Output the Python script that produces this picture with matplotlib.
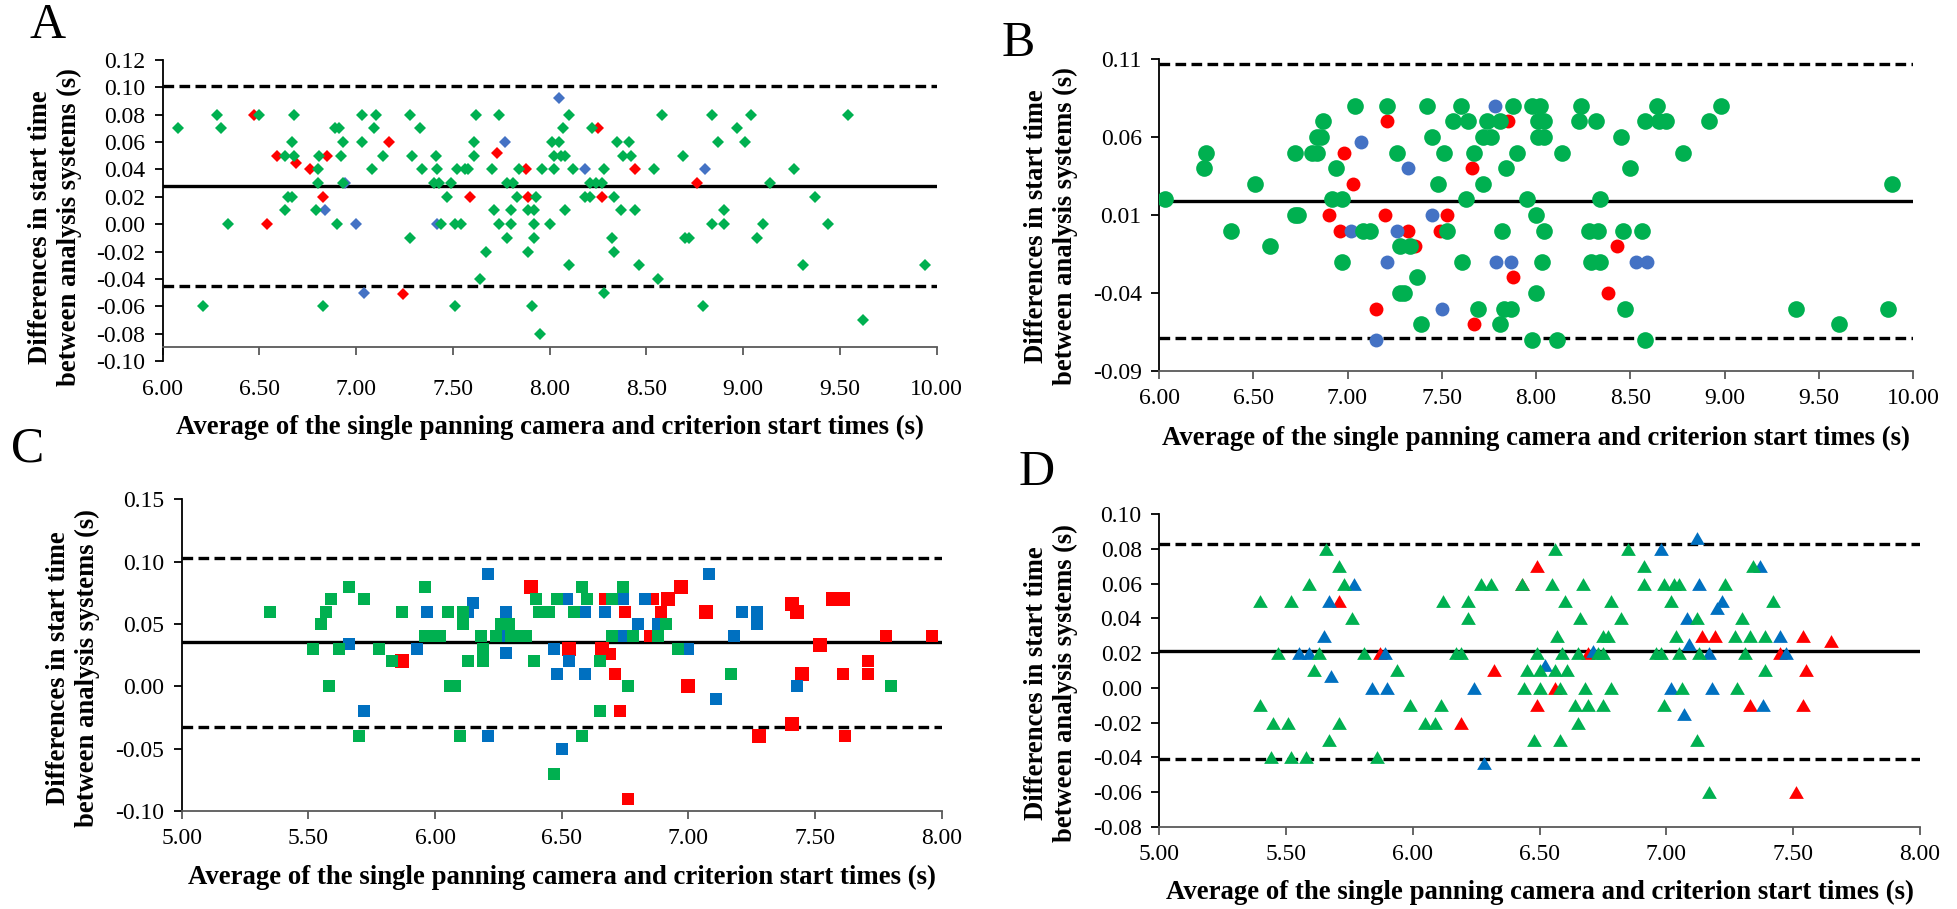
import numpy as np
import matplotlib.pyplot as plt
from matplotlib.ticker import FormatStrFormatter

plt.rcParams['font.family'] = ['Liberation Serif', 'DejaVu Serif']
plt.rcParams['axes.unicode_minus'] = False

W, H = 1957, 909
GREEN = '#00B050'
RED = '#FF0000'
BLUE_AB = '#4472C4'
BLUE_CD = '#0070C0'

# ---- A: diamonds (mean, difference) ----
a_green = [
    (6.08, 0.07), (6.28, 0.08), (6.30, 0.07), (6.21, -0.06), (6.34, 0.00), (6.50, 0.08),
    (6.68, 0.08), (6.67, 0.06), (6.63, 0.05), (6.68, 0.05), (6.65, 0.02), (6.67, 0.02),
    (6.63, 0.01), (6.80, 0.04), (6.81, 0.05), (6.80, 0.03), (6.79, 0.01), (6.83, -0.06),
    (6.89, 0.07), (6.91, 0.07), (6.93, 0.06), (6.92, 0.05), (6.93, 0.03), (6.90, 0.00),
    (7.03, 0.08), (7.10, 0.08), (7.09, 0.07), (7.03, 0.06), (7.14, 0.05), (7.08, 0.04),
    (7.28, 0.08), (7.33, 0.07), (7.29, 0.05), (7.34, 0.04), (7.28, -0.01), (7.41, 0.05),
    (7.42, 0.04), (7.40, 0.03), (7.43, 0.03), (7.49, 0.03), (7.47, 0.02), (7.44, 0.00),
    (7.52, 0.04), (7.56, 0.04), (7.58, 0.04), (7.51, 0.00), (7.54, 0.00), (7.51, -0.06),
    (7.62, 0.08), (7.61, 0.06), (7.61, 0.05), (7.74, 0.08), (7.70, 0.04), (7.71, 0.01),
    (7.74, 0.00), (7.67, -0.02), (7.64, -0.04), (7.78, 0.03), (7.81, 0.03), (7.83, 0.02),
    (7.80, 0.01), (7.80, 0.00), (7.78, -0.01), (7.84, 0.04), (7.89, -0.02), (7.89, 0.01),
    (7.92, 0.01), (7.93, 0.02), (7.92, 0.00), (7.92, -0.01), (7.91, -0.06), (7.95, -0.08),
    (7.96, 0.04), (8.02, 0.04), (8.00, 0.00), (8.01, 0.06), (8.05, 0.06), (8.02, 0.05),
    (8.06, 0.05), (8.08, 0.05), (8.07, 0.07), (8.10, 0.08), (8.08, 0.01), (8.12, 0.04),
    (8.10, -0.03), (8.21, 0.03), (8.24, 0.03), (8.27, 0.03), (8.18, 0.02), (8.21, 0.02),
    (8.22, 0.07), (8.28, 0.04), (8.33, 0.02), (8.35, 0.06), (8.41, 0.06), (8.38, 0.05),
    (8.42, 0.05), (8.37, 0.01), (8.44, 0.01), (8.32, -0.01), (8.33, -0.02), (8.28, -0.05),
    (8.46, -0.03), (8.54, 0.04), (8.58, 0.08), (8.56, -0.04), (8.69, 0.05), (8.70, -0.01),
    (8.72, -0.01), (8.79, -0.06), (8.84, 0.08), (8.87, 0.06), (8.84, 0.00), (8.90, 0.00),
    (8.90, 0.01), (8.97, 0.07), (9.01, 0.06), (9.04, 0.08), (9.07, -0.01), (9.10, 0.00),
    (9.14, 0.03), (9.26, 0.04), (9.31, -0.03), (9.37, 0.02), (9.44, 0.00), (9.54, 0.08),
    (9.62, -0.07), (9.94, -0.03),
]
a_red = [
    (6.47, 0.08), (6.59, 0.05), (6.69, 0.045), (6.76, 0.04), (6.83, 0.02), (6.85, 0.05),
    (6.54, 0.00), (7.17, 0.06), (7.24, -0.051), (7.73, 0.052), (7.59, 0.02), (7.88, 0.04),
    (7.89, 0.02), (8.25, 0.07), (8.27, 0.02), (8.44, 0.04), (8.76, 0.03),
]
a_blue = [
    (6.84, 0.01), (6.94, 0.03), (7.00, 0.00), (7.04, -0.05), (7.77, 0.06), (7.42, 0.00),
    (8.05, 0.092), (8.18, 0.04), (8.80, 0.04),
]
a_mean, a_loa = 0.028, (0.101, -0.045)

# ---- B: circles ----
b_green = [
    (6.03, 0.02), (6.25, 0.05), (6.24, 0.04), (6.51, 0.03), (6.38, 0.00), (6.59, -0.01),
    (6.72, 0.05), (6.72, 0.01), (6.74, 0.01), (6.87, 0.07), (6.84, 0.06), (6.86, 0.06),
    (6.81, 0.05), (6.84, 0.05), (6.94, 0.04), (6.92, 0.02), (6.97, 0.02), (6.97, -0.02),
    (7.04, 0.08), (7.08, 0.00), (7.12, 0.00), (7.21, 0.08), (7.26, 0.05), (7.28, -0.01),
    (7.33, -0.01), (7.28, -0.04), (7.30, -0.04), (7.37, -0.03), (7.39, -0.06), (7.42, 0.08),
    (7.45, 0.06), (7.48, 0.03), (7.51, 0.05), (7.53, 0.00), (7.56, 0.07), (7.60, 0.08),
    (7.64, 0.07), (7.63, 0.02), (7.61, -0.02), (7.67, 0.05), (7.72, 0.03), (7.69, -0.05),
    (7.74, 0.07), (7.72, 0.06), (7.76, 0.06), (7.81, 0.07), (7.88, 0.08), (7.98, 0.08),
    (8.02, 0.08), (8.01, 0.07), (8.04, 0.07), (8.01, 0.06), (8.04, 0.06), (7.90, 0.05),
    (8.14, 0.05), (7.84, 0.04), (7.95, 0.02), (8.34, 0.02), (8.00, 0.01), (7.82, 0.00),
    (8.04, 0.00), (8.28, 0.00), (8.33, 0.00), (8.03, -0.02), (8.29, -0.02), (8.34, -0.02),
    (8.00, -0.04), (7.83, -0.05), (7.87, -0.05), (7.81, -0.06), (7.98, -0.07), (8.11, -0.07),
    (8.24, 0.08), (8.64, 0.08), (8.98, 0.08), (8.23, 0.07), (8.32, 0.07), (8.58, 0.07),
    (8.65, 0.07), (8.69, 0.07), (8.92, 0.07), (8.45, 0.06), (8.78, 0.05), (8.50, 0.04),
    (9.89, 0.03), (8.46, 0.00), (8.56, 0.00), (8.47, -0.05), (9.38, -0.05), (9.87, -0.05),
    (9.61, -0.06), (8.58, -0.07),
]
b_red = [
    (7.21, 0.07), (6.98, 0.05), (7.03, 0.03), (6.90, 0.01), (6.96, 0.00), (7.20, 0.01),
    (7.32, 0.00), (7.36, -0.01), (7.15, -0.05), (7.53, 0.01), (7.49, 0.00), (7.66, 0.04),
    (7.67, -0.06), (7.85, 0.07), (7.88, -0.03), (8.38, -0.04), (8.43, -0.01),
]
b_blue = [
    (7.07, 0.057), (7.02, 0.00), (7.26, 0.00), (7.32, 0.04), (7.21, -0.02), (7.15, -0.07),
    (7.45, 0.01), (7.50, -0.05), (7.78, 0.08), (7.79, -0.02), (7.87, -0.02), (8.53, -0.02),
    (8.59, -0.02),
]
b_mean, b_loa = 0.019, (0.107, -0.069)

# ---- C: squares ----
c_green = [
    (5.35, 0.06), (5.55, 0.05), (5.57, 0.06), (5.59, 0.07), (5.52, 0.03), (5.58, 0.00),
    (5.62, 0.03), (5.66, 0.08), (5.72, 0.07), (5.70, -0.04), (5.78, 0.03), (5.83, 0.02),
    (5.87, 0.06), (5.96, 0.08), (5.96, 0.04), (5.99, 0.04), (6.02, 0.04), (6.05, 0.06),
    (6.06, 0.00), (6.08, 0.00), (6.10, -0.04), (6.11, 0.06), (6.11, 0.05), (6.13, 0.02),
    (6.18, 0.04), (6.19, 0.03), (6.19, 0.02), (6.24, 0.04), (6.26, 0.05), (6.29, 0.05),
    (6.30, 0.04), (6.33, 0.04), (6.36, 0.04), (6.39, 0.02), (6.40, 0.07), (6.41, 0.06),
    (6.45, 0.06), (6.48, 0.07), (6.47, -0.07), (6.58, 0.08), (6.60, 0.07), (6.55, 0.06),
    (6.65, 0.02), (6.65, -0.02), (6.70, 0.07), (6.74, 0.08), (6.70, 0.04), (6.78, 0.04),
    (6.76, 0.00), (6.88, 0.04), (6.91, 0.05), (6.96, 0.03), (6.58, -0.04), (7.17, 0.01),
    (7.80, 0.00),
]
c_blue = [
    (6.21, 0.09), (6.15, 0.067), (6.13, 0.06), (5.97, 0.06), (6.28, 0.06), (6.28, 0.04),
    (6.28, 0.027), (5.66, 0.034), (5.93, 0.03), (5.72, -0.02), (6.21, -0.04), (6.47, 0.03),
    (6.48, 0.01), (6.50, -0.05), (6.53, 0.02), (6.59, 0.01), (6.59, 0.06), (6.52, 0.07),
    (6.67, 0.06), (6.74, 0.07), (6.74, 0.04), (6.70, 0.04), (6.80, 0.05), (6.83, 0.07),
    (6.88, 0.05), (7.08, 0.09), (7.00, 0.03), (7.21, 0.06), (7.27, 0.06), (7.27, 0.05),
    (7.18, 0.04), (7.11, -0.01), (7.43, 0.00),
]
c_red_large = [
    (5.87, 0.02), (6.38, 0.08), (6.53, 0.03), (6.66, 0.03), (6.92, 0.07), (6.97, 0.08),
    (7.07, 0.06), (7.41, 0.066), (7.43, 0.06), (7.57, 0.07), (7.61, 0.07), (7.52, 0.033),
    (7.45, 0.01), (7.00, 0.00), (7.41, -0.03), (7.28, -0.04),
]
c_red_small = [
    (6.69, 0.026), (6.67, 0.07), (6.75, 0.06), (6.71, 0.01), (6.73, -0.02), (6.76, -0.09),
    (6.86, 0.07), (6.89, 0.06), (6.85, 0.04), (7.78, 0.04), (7.96, 0.04), (7.71, 0.02),
    (7.71, 0.01), (7.61, 0.01), (7.62, -0.04),
]
c_mean, c_loa = 0.0353, (0.1027, -0.0327)

# ---- D: triangles ----
d_green = [
    (5.40, 0.05), (5.52, 0.05), (5.59, 0.06), (5.66, 0.08), (5.71, 0.07), (5.73, 0.06),
    (5.76, 0.04), (5.47, 0.02), (5.63, 0.02), (5.61, 0.01), (5.40, -0.01), (5.45, -0.02),
    (5.51, -0.02), (5.71, -0.02), (5.67, -0.03), (5.44, -0.04), (5.52, -0.04), (5.58, -0.04),
    (5.81, 0.02), (5.86, -0.04), (5.94, 0.01), (5.99, -0.01), (6.05, -0.02), (6.09, -0.02),
    (6.11, -0.01), (6.12, 0.05), (6.17, 0.02), (6.19, 0.02), (6.22, 0.05), (6.22, 0.04),
    (6.27, 0.06), (6.31, 0.06), (6.43, 0.06), (6.55, 0.06), (6.67, 0.06), (6.56, 0.08),
    (6.85, 0.08), (6.60, 0.05), (6.78, 0.05), (6.66, 0.04), (6.82, 0.04), (6.57, 0.03),
    (6.75, 0.03), (6.77, 0.03), (6.49, 0.02), (6.59, 0.02), (6.65, 0.02), (6.73, 0.02),
    (6.75, 0.02), (6.45, 0.01), (6.50, 0.01), (6.56, 0.01), (6.61, 0.01), (6.44, 0.00),
    (6.50, 0.00), (6.58, 0.00), (6.68, 0.00), (6.78, 0.00), (6.64, -0.01), (6.69, -0.01),
    (6.75, -0.01), (6.65, -0.02), (6.48, -0.03), (6.58, -0.03), (6.91, 0.07), (6.91, 0.06),
    (6.99, 0.06), (7.03, 0.06), (7.05, 0.06), (7.23, 0.06), (7.34, 0.07), (7.02, 0.05),
    (7.42, 0.05), (7.12, 0.04), (7.30, 0.04), (7.04, 0.03), (7.27, 0.03), (7.33, 0.03),
    (7.39, 0.03), (6.96, 0.02), (6.98, 0.02), (7.05, 0.02), (7.13, 0.02), (7.31, 0.02),
    (7.39, 0.01), (7.06, 0.00), (7.28, 0.00), (6.99, -0.01), (7.12, -0.03), (7.17, -0.06),
]
d_blue = [
    (5.77, 0.06), (5.67, 0.05), (5.65, 0.03), (5.55, 0.02), (5.59, 0.02), (5.68, 0.007),
    (5.84, 0.00), (5.90, 0.00), (5.89, 0.02), (6.24, 0.00), (6.28, -0.043), (6.52, 0.013),
    (6.71, 0.021), (7.12, 0.086), (6.98, 0.08), (7.37, 0.07), (7.13, 0.06), (7.22, 0.05),
    (7.20, 0.046), (7.08, 0.04), (7.45, 0.03), (7.09, 0.025), (7.17, 0.02), (7.47, 0.02),
    (7.02, 0.00), (7.18, 0.00), (7.07, -0.015), (7.38, -0.01),
]
d_red = [
    (5.71, 0.05), (5.87, 0.02), (6.19, -0.02), (6.32, 0.01), (6.43, 0.06), (6.49, 0.07),
    (6.49, -0.01), (6.56, 0.00), (6.69, 0.02), (7.14, 0.03), (7.19, 0.03), (7.54, 0.03),
    (7.65, 0.027), (7.45, 0.02), (7.55, 0.01), (7.33, -0.01), (7.54, -0.01), (7.51, -0.06),
]
d_mean, d_loa = 0.021, (0.083, -0.041)

x_title = 'Average of the single panning camera and criterion start times (s)'
y_title = 'Differences in start time\nbetween analysis systems (s)'

# Excel-like triangle, centred on its bounding box
tri = [(-1, -0.866), (1, -0.866), (0, 0.866), (-1, -0.866)]


def px_rect(x0, x1, y_top, y_bot):
    return [x0 / W, 1 - y_bot / H, (x1 - x0) / W, (y_bot - y_top) / H]


def setup(ax, xlim, ylim, yticks, x_cross=None, xpad=8):
    ax.set_xlim(xlim)
    ax.set_ylim(ylim)
    ax.set_xticks(np.arange(xlim[0], xlim[1] + 0.01, 0.5))
    ax.set_yticks(yticks)
    ax.xaxis.set_major_formatter(FormatStrFormatter('%.2f'))
    ax.yaxis.set_major_formatter(FormatStrFormatter('%.2f'))
    ax.spines['top'].set_visible(False)
    ax.spines['right'].set_visible(False)
    ax.spines['left'].set_color('black')
    ax.spines['left'].set_linewidth(1.3)
    ax.spines['bottom'].set_color('#595959')
    ax.spines['bottom'].set_linewidth(1.3)
    if x_cross is not None:
        ax.spines['bottom'].set_position(('data', x_cross))
    ax.tick_params(axis='both', direction='out', length=5.5, width=1.3, labelsize=17)
    ax.tick_params(axis='x', color='#595959', pad=xpad)
    ax.tick_params(axis='y', pad=7)


def ref_lines(ax, mean, loa):
    ax.axhline(mean, color='black', lw=2.4, zorder=2)
    for v in loa:
        ax.axhline(v, color='black', lw=2.4, ls=(0, (3.2, 1.6)),
                   dash_capstyle='butt', zorder=2)


def pts(ax, data, color, marker, ms):
    xy = np.array(data)
    ax.plot(xy[:, 0], xy[:, 1], ls='none', marker=marker, ms=ms,
            mfc=color, mec=color, mew=0, zorder=3)


fig = plt.figure(figsize=(W / 100, H / 100), dpi=100)

# A
axA = fig.add_axes(px_rect(162.7, 936.7, 60, 361))
setup(axA, (6, 10), (-0.10, 0.12), [-0.10, -0.08, -0.06, -0.04, -0.02, 0.00,
                                     0.02, 0.04, 0.06, 0.08, 0.10, 0.12],
      x_cross=-0.09, xpad=17)
ref_lines(axA, a_mean, a_loa)
pts(axA, a_red, RED, 'D', 6.6)
pts(axA, a_blue, BLUE_AB, 'D', 6.6)
pts(axA, a_green, GREEN, 'D', 6.6)

# B
axB = fig.add_axes(px_rect(1159, 1913, 59, 371))
setup(axB, (6, 10), (-0.09, 0.11), [-0.09, -0.04, 0.01, 0.06, 0.11], xpad=7)
ref_lines(axB, b_mean, b_loa)
pts(axB, b_red, RED, 'o', 10)
pts(axB, b_blue, BLUE_AB, 'o', 10)
pts(axB, b_green, GREEN, 'o', 12)

# C
axC = fig.add_axes(px_rect(181.7, 941.7, 499.3, 811))
setup(axC, (5, 8), (-0.10, 0.15), [-0.10, -0.05, 0.00, 0.05, 0.10, 0.15], xpad=7)
ref_lines(axC, c_mean, c_loa)
pts(axC, c_red_large, RED, 's', 10.5)
pts(axC, c_red_small, RED, 's', 8.2)
pts(axC, c_blue, BLUE_CD, 's', 8.2)
pts(axC, c_green, GREEN, 's', 8.2)

# D
axD = fig.add_axes(px_rect(1159, 1920, 514, 827))
setup(axD, (5, 8), (-0.08, 0.10), [-0.08, -0.06, -0.04, -0.02, 0.00, 0.02,
                                    0.04, 0.06, 0.08, 0.10], xpad=7)
ref_lines(axD, d_mean, d_loa)
pts(axD, d_red, RED, tri, 10.6)
pts(axD, d_blue, BLUE_CD, tri, 10.6)
pts(axD, d_green, GREEN, tri, 10.6)


def ftext(x, y, s, **kw):
    fig.text(x / W, 1 - y / H, s, ha='center', va='center', **kw)


# panel letters
ftext(48, 26, 'A', fontsize=36)
ftext(1018, 44, 'B', fontsize=36)
ftext(28, 449, 'C', fontsize=36)
ftext(1037, 473, 'D', fontsize=36)

# axis titles
for cx, cy in [(549.7, 427), (1536, 438), (561.7, 877), (1539.5, 892)]:
    ftext(cx, cy, x_title, fontsize=19.3, fontweight='bold')
for cx, cy in [(55, 227), (1051, 226), (73, 668), (1051, 683)]:
    ftext(cx, cy, y_title, fontsize=19.2, fontweight='bold', rotation=90,
          multialignment='center')

fig.savefig('out.png', dpi=100)
